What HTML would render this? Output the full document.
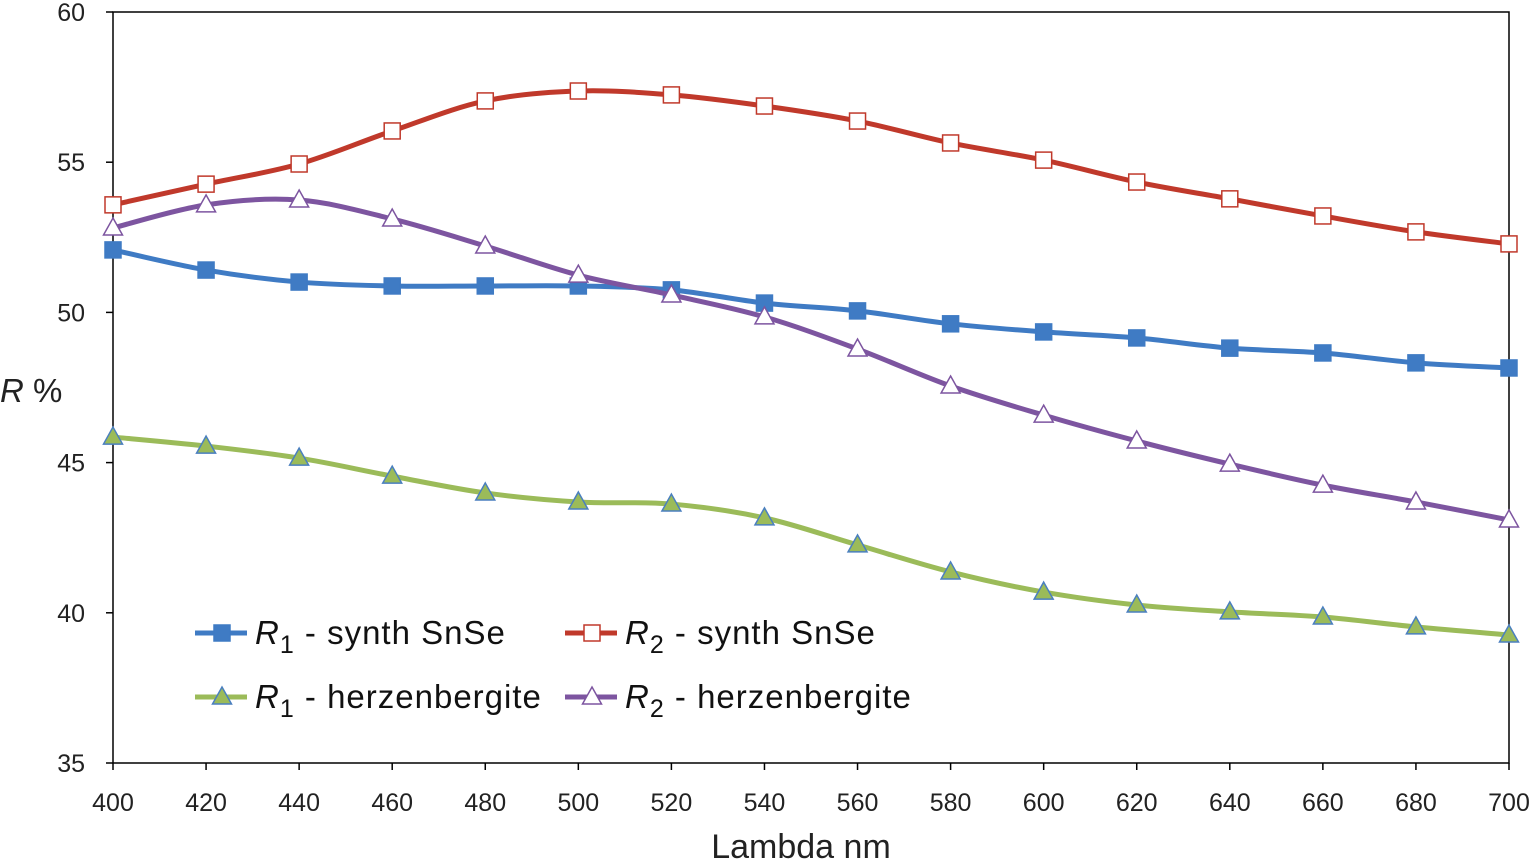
<!DOCTYPE html>
<html><head><meta charset="utf-8"><style>
body{margin:0;background:#fff;}
svg text{font-family:"Liberation Sans",sans-serif;}
</style></head><body>
<svg id="chart" width="1536" height="859" xmlns="http://www.w3.org/2000/svg">
<g id="axes"></g><g id="series"></g><g id="legend"></g>
</svg>
<script>
const categories=[400,420,440,460,480,500,520,540,560,580,600,620,640,660,680,700];
const r1Synth=[52.08,51.41,51.01,50.88,50.88,50.88,50.75,50.31,50.05,49.62,49.35,49.15,48.81,48.65,48.32,48.15];
const r2Synth=[53.58,54.27,54.94,56.04,57.04,57.37,57.24,56.87,56.37,55.64,55.07,54.34,53.78,53.21,52.68,52.28];
const r1Herz=[45.85,45.55,45.15,44.55,43.99,43.69,43.62,43.16,42.26,41.36,40.69,40.26,40.03,39.86,39.53,39.26];
const r2Herz=[52.81,53.58,53.74,53.11,52.21,51.24,50.58,49.85,48.78,47.55,46.58,45.72,44.95,44.25,43.69,43.09];
const yTicks=[35,40,45,50,55,60];
const xTicks=[400,420,440,460,480,500,520,540,560,580,600,620,640,660,680,700];

const NS="http://www.w3.org/2000/svg";
const L=113,R=1509,T=12,B=763;
const xs=v=>L+(v-400)/300*(R-L);
const ys=v=>B-(v-35)/25*(B-T);
function mk(tag,attrs,parent,text){const e=document.createElementNS(NS,tag);for(const k in attrs)e.setAttribute(k,attrs[k]);if(text!==undefined)e.textContent=text;parent.appendChild(e);return e;}
const axes=document.getElementById('axes');
const frame=mk('rect',{x:L,y:T,width:R-L,height:B-T,fill:'none',stroke:'#000','stroke-width':1.5},axes);


yTicks.forEach(t=>{
  const tk=mk('line',{x1:L-7,x2:L,y1:ys(t),y2:ys(t),stroke:'#000','stroke-width':1.5},axes);
  
  
  const lb=mk('text',{x:L-28,y:ys(t)+9,'text-anchor':'end','font-size':25,fill:'#222'},axes,t);
  
  
});
xTicks.forEach(t=>{
  const tk=mk('line',{x1:xs(t),x2:xs(t),y1:B,y2:B+7,stroke:'#000','stroke-width':1.5},axes);
  
  
  const lb=mk('text',{x:xs(t),y:811,'text-anchor':'middle','font-size':25,fill:'#222'},axes,t);
  
  
});
const xt=mk('text',{x:801,y:858,'text-anchor':'middle','font-size':34,fill:'#222'},axes,'Lambda nm');


const yt=mk('text',{x:0,y:402,'font-size':33,fill:'#222'},axes);


mk('tspan',{'font-style':'italic'},yt,'R');mk('tspan',{},yt,' %');

function smooth(pts){
  let d=`M${pts[0][0]},${pts[0][1]}`;
  for(let i=0;i<pts.length-1;i++){
    const p0=pts[i-1]||pts[i],p1=pts[i],p2=pts[i+1],p3=pts[i+2]||p2;
    const c1=[p1[0]+(p2[0]-p0[0])/6,p1[1]+(p2[1]-p0[1])/6];
    const c2=[p2[0]-(p3[0]-p1[0])/6,p2[1]-(p3[1]-p1[1])/6];
    d+=` C${c1[0]},${c1[1]} ${c2[0]},${c2[1]} ${p2[0]},${p2[1]}`;
  }
  return d;
}
function marker(g,type,x,y,color,fill){
  let m;
  if(type==='sq') m=mk('rect',{x:x-8,y:y-8,width:16,height:16,fill:fill,stroke:color,'stroke-width':1.5},g);
  else m=mk('polygon',{points:`${x},${y-10} ${x+9.5},${y+7} ${x-9.5},${y+7}`,fill:fill,stroke:color,'stroke-width':1.5},g);
  return m;
}
const seriesDefs=[
 {name:'r1-synth',data:r1Synth,color:'#3f7bc4',type:'sq',fill:'#3f7bc4',mstroke:'#3f7bc4'},
 {name:'r2-synth',data:r2Synth,color:'#c0392b',type:'sq',fill:'#fff',mstroke:'#c0392b'},
 {name:'r1-herzenbergite',data:r1Herz,color:'#9bbb59',type:'tri',fill:'#9bbb59',mstroke:'#4a7fbf'},
 {name:'r2-herzenbergite',data:r2Herz,color:'#7d55a0',type:'tri',fill:'#fff',mstroke:'#7d55a0'}
];
const sg=document.getElementById('series');
seriesDefs.forEach(s=>{
  const g=mk('g',{},sg);
  
  
  const pts=categories.map((c,i)=>[xs(c),ys(s.data[i])]);
  const p=mk('path',{d:smooth(pts),fill:'none',stroke:s.color,'stroke-width':5},g);
  
  
  pts.forEach(pt=>{
    const m=marker(g,s.type,pt[0],pt[1],s.mstroke,s.fill);
    
    
  });
});
const lg=document.getElementById('legend');


const entries=[
 [0,195,633,'synth SnSe','1'],[1,565,633,'synth SnSe','2'],
 [2,195,697,'herzenbergite','1'],[3,565,697,'herzenbergite','2']];
entries.forEach(e=>{
  const s=seriesDefs[e[0]];
  const g=mk('g',{},lg);
  
  
  mk('line',{x1:e[1],x2:e[1]+52,y1:e[2],y2:e[2],stroke:s.color,'stroke-width':5},g);
  marker(g,s.type,e[1]+27,e[2],s.mstroke,s.fill);
  const t=mk('text',{x:e[1]+60,y:e[2]+11,'font-size':33,'letter-spacing':1,fill:'#111'},g);
  mk('tspan',{'font-style':'italic'},t,'R');
  mk('tspan',{'font-size':25,dy:9},t,e[4]);
  mk('tspan',{dy:-9},t,' - '+e[3]);
});
</script>
</body></html>
